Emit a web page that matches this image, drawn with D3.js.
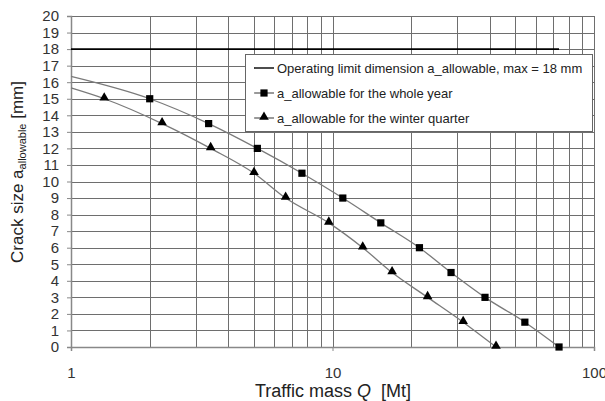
<!DOCTYPE html>
<html><head><meta charset="utf-8">
<script src="https://cdn.jsdelivr.net/npm/d3@7"></script>
<style>body{margin:0;background:#fff}svg{display:block;font-family:"Liberation Sans",Arial,sans-serif}</style>
</head><body><svg id="c" width="605" height="401"></svg>
<script>
const crackLevels = [15, 13.5, 12, 10.5, 9, 7.5, 6, 4.5, 3, 1.5, 0];
const wholeYearQ = [2.0, 3.36, 5.16, 7.64, 10.95, 15.3, 21.5, 28.4, 38.3, 54.4, 73.5];
const winterQ = [1.34, 2.23, 3.42, 5.01, 6.62, 9.68, 13.05, 16.9, 23.1, 31.6, 42.2];
const curveStartQ = 1;
const wholeYearStart = 16.35;
const winterStart = 15.65;
const limitValue = 18;
const limitQ = [1, 73.5];
const yTicks = d3.range(0, 21);
const xTickLabels = [1, 10, 100];
const legendLabels = ["Operating limit dimension a_allowable, max = 18 mm", "a_allowable for the whole year", "a_allowable for the winter quarter"];

const FONT = '"Liberation Sans", Arial, sans-serif';
const svg = d3.select("#c");
const x = d3.scaleLog().domain([1, 100]).range([71, 594]);
const y = d3.scaleLinear().domain([0, 20]).range([347, 16]);
const grid = "#6e6e6e";

// vertical grid lines (log minor)
const vt = [];
for (const d of [1, 10]) for (let k = 1; k <= 10; k++) vt.push(d * k);
svg.append("g").selectAll("line").data([...new Set(vt)]).join("line")
  .attr("x1", d => Math.round(x(d)) + 0.5).attr("x2", d => Math.round(x(d)) + 0.5)
  .attr("y1", y(20)).attr("y2", y(0)).attr("stroke", grid).attr("stroke-width", 1);
// horizontal
svg.append("g").selectAll("line").data(yTicks).join("line")
  .attr("x1", x(1)).attr("x2", x(100))
  .attr("y1", d => Math.round(y(d)) + 0.5).attr("y2", d => Math.round(y(d)) + 0.5)
  .attr("stroke", grid).attr("stroke-width", 1);

// axes
const yAxis = d3.axisLeft(y).tickValues(yTicks).tickSize(4).tickPadding(8).tickFormat(d3.format("d"));
const gy = svg.append("g").attr("transform", `translate(${x(1)},0)`).call(yAxis);
gy.select(".domain").attr("stroke", "#888").attr("stroke-width", 1.5);
gy.selectAll(".tick line").attr("stroke", "#888");
gy.selectAll("text").attr("font-size", 15).attr("fill", "#333").attr("font-family", FONT);

const xAxis = d3.axisBottom(x).tickValues(xTickLabels).tickSize(4).tickPadding(16).tickFormat(d3.format("d"));
const gx = svg.append("g").attr("transform", `translate(0,${y(0)})`).call(xAxis);
gx.select(".domain").attr("stroke", "#888").attr("stroke-width", 1.5);
gx.selectAll(".tick line").attr("stroke", "#888");
gx.selectAll("text").attr("font-size", 15).attr("fill", "#333").attr("font-family", FONT);

// limit line
svg.append("line").attr("x1", x(limitQ[0])).attr("x2", x(limitQ[1]))
  .attr("y1", y(limitValue)).attr("y2", y(limitValue)).attr("stroke", "#000").attr("stroke-width", 1.6);

// curves
const line = d3.line().x(d => x(d[0])).y(d => y(d[1])).curve(d3.curveMonotoneX);
const wy = [[curveStartQ, wholeYearStart], ...wholeYearQ.map((q, i) => [q, crackLevels[i]])];
const wq = [[curveStartQ, winterStart], ...winterQ.map((q, i) => [q, crackLevels[i]])];
svg.append("path").attr("d", line(wy)).attr("fill", "none").attr("stroke", "#7a7a7a").attr("stroke-width", 1.3);
svg.append("path").attr("d", line(wq)).attr("fill", "none").attr("stroke", "#7a7a7a").attr("stroke-width", 1.3);

const sq = d3.symbol().type(d3.symbolSquare).size(52);
const tri = d3.symbol().type(d3.symbolTriangle).size(40);
svg.append("g").selectAll("path").data(wholeYearQ.map((q, i) => [q, crackLevels[i]])).join("path")
  .attr("d", sq).attr("transform", d => `translate(${x(d[0])},${y(d[1])})`).attr("fill", "#000");
svg.append("g").selectAll("path").data(winterQ.map((q, i) => [q, crackLevels[i]])).join("path")
  .attr("d", tri).attr("transform", d => `translate(${x(d[0])},${y(d[1]) - 1})`).attr("fill", "#000");

// legend
const lg = svg.append("g");
lg.append("rect").attr("x", 245.5).attr("y", 54.5).attr("width", 347).attr("height", 77)
  .attr("fill", "#fff").attr("stroke", "#666").attr("stroke-width", 1);
const ly = [68, 93, 118];
legendLabels.forEach((t, i) => {
  lg.append("line").attr("x1", 254).attr("x2", 274).attr("y1", ly[i]).attr("y2", ly[i])
    .attr("stroke", i === 0 ? "#000" : "#555").attr("stroke-width", i === 0 ? 1.4 : 1.2);
  if (i === 1) lg.append("path").attr("d", sq).attr("transform", `translate(264,${ly[i]})`).attr("fill", "#000");
  if (i === 2) lg.append("path").attr("d", tri).attr("transform", `translate(264,${ly[i] - 1})`).attr("fill", "#000");
  lg.append("text").attr("x", 277).attr("y", ly[i]).attr("dy", "0.35em").attr("font-size", 13)
    .attr("fill", "#222").text(t);
});

// axis titles
const xt = svg.append("text").attr("x", 333).attr("y", 397).attr("text-anchor", "middle")
  .attr("font-size", 18).attr("fill", "#222");
xt.append("tspan").text("Traffic mass ");
xt.append("tspan").attr("font-style", "italic").text("Q");
xt.append("tspan").text("\u00a0\u00a0[Mt]");

const yt = svg.append("text").attr("transform", "translate(23,172) rotate(-90)").attr("text-anchor", "middle")
  .attr("font-size", 17).attr("fill", "#222");
yt.append("tspan").text("Crack size a");
yt.append("tspan").attr("font-size", 11).attr("dy", 3).text("allowable");
yt.append("tspan").attr("dy", -3).text("\u00a0[mm]");
</script></body></html>
